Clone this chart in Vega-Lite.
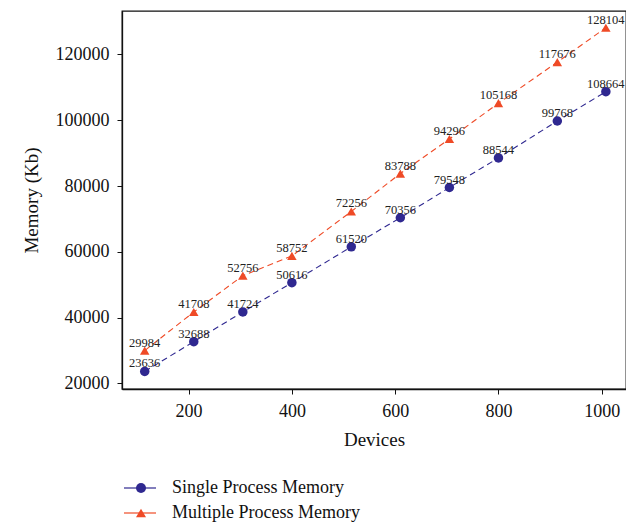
{
  "$schema": "https://vega.github.io/schema/vega-lite/v6.json",
  "width": 504,
  "height": 378,
  "autosize": "none",
  "padding": {"left": 122, "top": 11, "right": 0, "bottom": 137},
  "background": "white",
  "config": {
    "font": "Liberation Serif",
    "view": {"stroke": "#111", "strokeWidth": 1.3},
    "axis": {
      "grid": false,
      "labelFont": "Liberation Serif",
      "titleFont": "Liberation Serif",
      "labelFontSize": 18,
      "titleFontSize": 19,
      "titleFontWeight": "normal",
      "labelColor": "#111",
      "titleColor": "#111",
      "tickColor": "#111",
      "domainColor": "#111",
      "domainWidth": 1.3,
      "tickSize": 5,
      "tickWidth": 1
    },
    "legend": {
      "labelFont": "Liberation Serif",
      "labelFontSize": 18,
      "labelColor": "#111",
      "labelLimit": 500
    }
  },
  "data": {
    "values": [
      {"devices": 115, "memory": 23636, "series": "Single Process Memory"},
      {"devices": 210, "memory": 32688, "series": "Single Process Memory"},
      {"devices": 305, "memory": 41724, "series": "Single Process Memory"},
      {"devices": 400, "memory": 50616, "series": "Single Process Memory"},
      {"devices": 515, "memory": 61520, "series": "Single Process Memory"},
      {"devices": 610, "memory": 70356, "series": "Single Process Memory"},
      {"devices": 705, "memory": 79548, "series": "Single Process Memory"},
      {"devices": 800, "memory": 88544, "series": "Single Process Memory"},
      {"devices": 914, "memory": 99768, "series": "Single Process Memory"},
      {"devices": 1008, "memory": 108664, "series": "Single Process Memory"},
      {"devices": 115, "memory": 29984, "series": "Multiple Process Memory"},
      {"devices": 210, "memory": 41708, "series": "Multiple Process Memory"},
      {"devices": 305, "memory": 52756, "series": "Multiple Process Memory"},
      {"devices": 400, "memory": 58752, "series": "Multiple Process Memory"},
      {"devices": 515, "memory": 72256, "series": "Multiple Process Memory"},
      {"devices": 610, "memory": 83788, "series": "Multiple Process Memory"},
      {"devices": 705, "memory": 94296, "series": "Multiple Process Memory"},
      {"devices": 800, "memory": 105168, "series": "Multiple Process Memory"},
      {"devices": 914, "memory": 117676, "series": "Multiple Process Memory"},
      {"devices": 1008, "memory": 128104, "series": "Multiple Process Memory"}
    ]
  },
  "encoding": {
    "x": {
      "field": "devices",
      "type": "quantitative",
      "scale": {"domain": [71, 1047], "nice": false, "zero": false},
      "axis": {"title": "Devices", "values": [200, 400, 600, 800, 1000], "format": "d", "labelPadding": 8, "titlePadding": 10}
    },
    "y": {
      "field": "memory",
      "type": "quantitative",
      "scale": {"domain": [18300, 133200], "nice": false, "zero": false},
      "axis": {"title": "Memory (Kb)", "values": [20000, 40000, 60000, 80000, 100000, 120000], "format": "d", "labelPadding": 8, "titlePadding": 14}
    }
  },
  "layer": [
    {
      "mark": {"type": "line", "strokeDash": [6, 4], "strokeWidth": 1.1},
      "encoding": {
        "stroke": {
          "field": "series",
          "type": "nominal",
          "scale": {"domain": ["Multiple Process Memory", "Single Process Memory"], "range": ["#ef4a26", "#2f2890"]},
          "legend": {
            "title": null,
            "orient": "none",
            "legendX": 1,
            "legendY": 465,
            "values": ["Single Process Memory", "Multiple Process Memory"],
            "symbolType": "stroke",
            "symbolSize": 1024,
            "symbolStrokeWidth": 1.2,
            "clipHeight": 24,
            "rowPadding": 1,
            "labelExpr": "''",
            "labelOpacity": 0
          }
        }
      }
    },
    {
      "mark": {"type": "point", "filled": true, "opacity": 1, "size": 90},
      "encoding": {
        "color": {
          "field": "series",
          "type": "nominal",
          "scale": {"domain": ["Single Process Memory", "Multiple Process Memory"], "range": ["#2f2890", "#ef4a26"]},
          "legend": {
            "title": null,
            "orient": "none",
            "legendX": 10,
            "legendY": 465,
            "symbolSize": 100,
            "symbolOpacity": 1,
            "clipHeight": 24,
            "rowPadding": 1,
            "labelOffset": 22
          }
        },
        "shape": {
          "field": "series",
          "type": "nominal",
          "scale": {"domain": ["Single Process Memory", "Multiple Process Memory"], "range": ["circle", "triangle-up"]},
          "legend": null
        }
      }
    },
    {
      "mark": {"type": "text", "dy": -8, "baseline": "middle", "align": "center", "fontSize": 12.5, "font": "Liberation Serif", "color": "#222"},
      "encoding": {
        "text": {"field": "memory", "type": "quantitative", "format": "d"}
      }
    }
  ]
}
